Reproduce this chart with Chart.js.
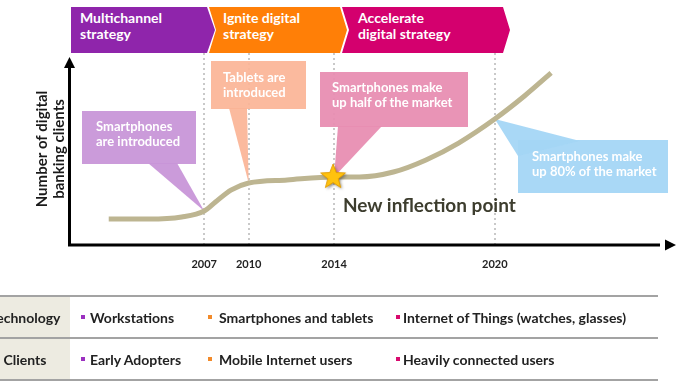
<!DOCTYPE html>
<html>
<head>
<meta charset="utf-8">
<script src="https://cdn.jsdelivr.net/npm/chart.js@4.4.1/dist/chart.umd.min.js"></script>
<style>
  html, body { margin: 0; padding: 0; background: #fff; }
  #wrap { position: relative; width: 676px; height: 388px; overflow: hidden; font-family: Lato, 'Open Sans', sans-serif; }
  #chart { position: absolute; left: 0; top: 0; }
  .phase { position: absolute; top: 7px; height: 46px; color: #fff; font-weight: bold; font-size: 14px; line-height: 16px; }
  .phase span { position: absolute; top: 3px; white-space: nowrap; }
  .call { position: absolute; color: #fff; font-size: 13px; font-weight: bold; line-height: 15px; white-space: nowrap; }
  .inflection { position: absolute; left: 343px; top: 193px; font-size: 19px; font-weight: bold; color: #3d3d2e; white-space: nowrap; }
  .hline { position: absolute; left: 0; width: 658px; height: 2px; background: #a3a3a3; }
  .cell { position: absolute; left: 0; width: 70px; background: #edebe1; }
  .rowlabel { position: absolute; left: -25px; width: 100px; text-align: center; font-size: 14px; font-weight: bold; color: #222; line-height: 18px; }
  .item { position: absolute; font-size: 14px; font-weight: bold; color: #222; line-height: 18px; white-space: nowrap; }
  .bullet { position: absolute; width: 4px; height: 4px; }
</style>
</head>
<body>
<div id="wrap">
  <canvas id="chart" width="676" height="388"></canvas>
</div>
<script>
// Frise : position horizontale (0-100) de chaque année repère
const yearLabels = ['2007', '2010', '2014', '2020'];
const yearPos = [22.8, 30.3, 44.7, 71.8];

// Courbe du nombre de clients digitaux (échelle relative 0-100)
const curveX = [6.7, 13.5, 19.0, 22.8, 24.7, 27.3, 30.3, 36.8, 44.7, 49.0, 54.7, 60.2, 65.7, 71.8, 76.8, 81.3];
const curveY = [13.5, 13.5, 14.6, 17.7, 22.4, 28.6, 32.3, 33.9, 35.4, 35.4, 38.0, 44.3, 53.1, 65.6, 77.6, 89.6];

// Point d'inflexion (étoile)
const inflectionX = [44.7];
const inflectionY = [35.4];
const inflectionLabel = 'New inflection point';

// Phases stratégiques
const phaseNames = [['Multichannel', 'strategy'], ['Ignite digital', 'strategy'], ['Accelerate', 'digital strategy']];
const phaseColors = ['#8f25ab', '#ff7f07', '#d4006e'];

// Bulles d'annotation (une par année repère)
const calloutTexts = [
  ['Smartphones', 'are introduced'],
  ['Tablets are', 'introduced'],
  ['Smartphones make', 'up half of the market'],
  ['Smartphones make', 'up 80% of the market']
];
const calloutColors = ['rgba(200,150,216,0.95)', 'rgba(251,180,150,0.92)', 'rgba(232,142,178,0.95)', 'rgba(164,214,246,0.95)'];

// Tableau du bas
const rowLabels = ['Technology', 'Clients'];
const technologyItems = ['Workstations', 'Smartphones and tablets', 'Internet of Things (watches, glasses)'];
const clientItems = ['Early Adopters', 'Mobile Internet users', 'Heavily connected users'];
const bulletColors = ['#9b30c0', '#f28a2a', '#d80a6e'];

const wrap = document.getElementById('wrap');

function addDiv(cls, css, html) {
  const d = document.createElement('div');
  d.className = cls;
  Object.assign(d.style, css);
  if (html !== undefined) d.innerHTML = html;
  wrap.appendChild(d);
  return d;
}

// --- bandeau des phases (chevrons)
const phaseLayout = [
  { left: 71, width: 144, clip: 'polygon(0 0, 136px 0, 144px 23px, 136px 46px, 0 46px)', text: 9 },
  { left: 209, width: 138, clip: 'polygon(0 0, 131px 0, 138px 23px, 131px 46px, 0 46px, 7px 23px)', text: 14 },
  { left: 342, width: 168, clip: 'polygon(0 0, 161px 0, 168px 23px, 161px 46px, 0 46px, 7px 23px)', text: 16 }
];
phaseNames.forEach((lines, i) => {
  const p = phaseLayout[i];
  addDiv('phase', { left: p.left + 'px', width: p.width + 'px', background: phaseColors[i], clipPath: p.clip },
    '<span style="left:' + p.text + 'px">' + lines.join('<br>') + '</span>');
});

// --- textes des bulles
const calloutTextPos = [[96, 119], [223, 70], [332, 80], [532, 149]];
calloutTexts.forEach((lines, i) => {
  addDiv('call', { left: calloutTextPos[i][0] + 'px', top: calloutTextPos[i][1] + 'px' }, lines.join('<br>'));
});
addDiv('inflection', {}, inflectionLabel);

// --- tableau
[296, 338, 380].forEach(y => addDiv('hline', { top: (y - 1) + 'px' }));
addDiv('cell', { top: '297px', height: '40px' });
addDiv('cell', { top: '339px', height: '40px' });
const rowCenters = [318, 360];
const colText = [90, 219, 403];
const colBullet = [81, 208, 396];
[technologyItems, clientItems].forEach((items, r) => {
  addDiv('rowlabel', { top: (rowCenters[r] - 9) + 'px' }, rowLabels[r]);
  items.forEach((txt, c) => {
    addDiv('bullet', { left: colBullet[c] + 'px', top: (rowCenters[r] - 3) + 'px', background: bulletColors[c] });
    addDiv('item', { left: colText[c] + 'px', top: (rowCenters[r] - 9) + 'px' }, txt);
  });
});

// --- étoile dessinée une fois et utilisée comme pointStyle
const starImg = document.createElement('canvas');
starImg.width = 34; starImg.height = 34;
(function () {
  const c = starImg.getContext('2d');
  c.shadowColor = 'rgba(60,60,60,0.6)';
  c.shadowBlur = 3;
  c.shadowOffsetX = 1.5;
  c.shadowOffsetY = 1.5;
  c.beginPath();
  for (let k = 0; k < 10; k++) {
    const r = k % 2 === 0 ? 13 : 5.5;
    const a = -Math.PI / 2 + k * Math.PI / 5;
    const px = 16 + r * Math.cos(a), py = 17 + r * Math.sin(a);
    if (k === 0) c.moveTo(px, py); else c.lineTo(px, py);
  }
  c.closePath();
  c.fillStyle = '#ffc20e';
  c.fill();
  c.shadowColor = 'transparent';
  c.strokeStyle = '#e39d00';
  c.lineWidth = 1;
  c.stroke();
})();

// bulles : base du triangle (px) + rectangle, la pointe vient de la courbe
const calloutShapes = [
  { rect: [82, 111, 114, 53], base: [[148, 163], [177, 163]] },
  { rect: [211, 61, 95, 48], base: [[229, 108], [247, 108]] },
  { rect: [320, 72, 148, 55], base: [[338, 126], [382, 126]] },
  { rect: [518, 140, 150, 53], base: [[580, 141], [518, 156]] }
];

const calloutPlugin = {
  id: 'callouts',
  beforeDatasetsDraw(chart) {
    const ctx = chart.ctx;
    const xs = chart.scales.x, ys = chart.scales.y;
    ctx.save();
    calloutShapes.forEach((s, i) => {
      const idx = curveX.indexOf(yearPos[i]);
      const tipX = xs.getPixelForValue(curveX[idx]);
      const tipY = ys.getPixelForValue(curveY[idx]);
      ctx.fillStyle = calloutColors[i];
      ctx.beginPath();
      ctx.rect(s.rect[0], s.rect[1], s.rect[2], s.rect[3]);
      ctx.fill();
      ctx.beginPath();
      ctx.moveTo(s.base[0][0], s.base[0][1]);
      ctx.lineTo(tipX, tipY);
      ctx.lineTo(s.base[1][0], s.base[1][1]);
      ctx.closePath();
      ctx.fill();
    });
    ctx.restore();
  }
};

const axisArrows = {
  id: 'axisArrows',
  afterDraw(chart) {
    const { ctx, chartArea: a } = chart;
    ctx.save();
    ctx.strokeStyle = '#000';
    ctx.fillStyle = '#000';
    ctx.lineWidth = 3;
    ctx.beginPath();
    ctx.moveTo(a.left + 0.5, a.top + 12);
    ctx.lineTo(a.left + 0.5, a.bottom);
    ctx.lineTo(a.right - 2, a.bottom);
    ctx.stroke();
    ctx.beginPath();
    ctx.moveTo(a.left + 0.5, a.top + 4);
    ctx.lineTo(a.left - 5, a.top + 15);
    ctx.lineTo(a.left + 6, a.top + 15);
    ctx.fill();
    ctx.beginPath();
    ctx.moveTo(676, a.bottom);
    ctx.lineTo(665, a.bottom - 5.5);
    ctx.lineTo(665, a.bottom + 5.5);
    ctx.fill();
    ctx.restore();
  }
};

new Chart(document.getElementById('chart'), {
  type: 'line',
  data: {
    datasets: [
      {
        type: 'scatter',
        data: inflectionX.map((x, i) => ({ x: x, y: inflectionY[i] })),
        pointStyle: starImg,
        pointRadius: 13,
        order: 0
      },
      {
        data: curveX.map((x, i) => ({ x: x, y: curveY[i] })),
        borderColor: '#bdb591',
        borderWidth: 5,
        pointRadius: 0,
        fill: false,
        cubicInterpolationMode: 'monotone',
        order: 1
      }
    ]
  },
  options: {
    responsive: false,
    devicePixelRatio: 1,
    animation: false,
    layout: { padding: { top: 53, right: 7, left: 0, bottom: 0 } },
    plugins: { legend: { display: false }, tooltip: { enabled: false } },
    scales: {
      x: {
        type: 'linear',
        min: 0,
        max: 100,
        afterFit: s => { s.height = 143; },
        afterBuildTicks: s => { s.ticks = yearPos.map(v => ({ value: v })); },
        grid: { display: true, drawTicks: false, color: '#c9c9c9', lineWidth: 2 },
        border: { display: false, dash: [2, 3] },
        ticks: {
          autoSkip: false,
          maxRotation: 0,
          padding: 13,
          color: '#222',
          font: { family: 'Lato', size: 11, weight: 'bold' },
          callback: v => yearLabels[yearPos.indexOf(v)]
        }
      },
      y: {
        type: 'linear',
        min: 0,
        max: 100,
        afterFit: s => { s.width = 69; },
        grid: { display: false },
        border: { display: false },
        ticks: { display: false },
        title: {
          display: true,
          text: ['Number of digital', 'banking clients'],
          color: '#1a1a1a',
          font: { family: 'Lato', size: 15, weight: 'bold', lineHeight: 1.1 },
          padding: { top: 34, bottom: 0 }
        }
      }
    }
  },
  plugins: [calloutPlugin, axisArrows]
});
</script>
</body>
</html>
